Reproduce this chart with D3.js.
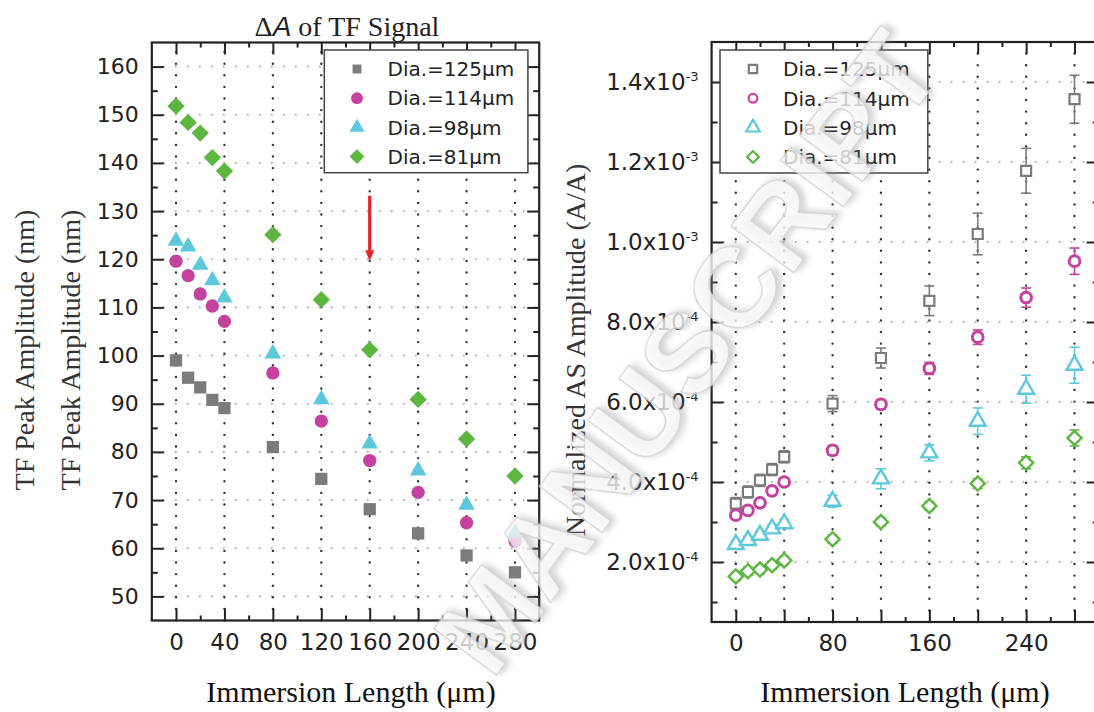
<!DOCTYPE html>
<html>
<head>
<meta charset="utf-8">
<script src="https://cdn.jsdelivr.net/npm/d3@7"></script>
<style>
  body { margin: 0; background: #fff; }
  svg { display: block; }
</style>
</head>
<body>
<div id="chart"></div>
<script>
// immersion lengths (um), shared by both panels
const immersion = [0, 10, 20, 30, 40, 80, 120, 160, 200, 240, 280];
const diaLabels = ["Dia.=125\u03bcm", "Dia.=114\u03bcm", "Dia.=98\u03bcm", "Dia.=81\u03bcm"];

// left panel: TF peak amplitude (nm)
const tf125 = [99.0, 95.4, 93.4, 90.8, 89.1, 81.0, 74.4, 68.1, 63.1, 58.5, 55.0];
const tf114 = [119.6, 116.6, 112.8, 110.3, 107.1, 96.4, 86.4, 78.2, 71.6, 65.3, 61.5];
const tf98  = [123.8, 122.6, 118.8, 115.6, 112.0, 100.4, 90.9, 81.7, 76.1, 69.0, 63.2];
const tf81  = [151.8, 148.4, 146.2, 141.1, 138.3, 125.1, 111.6, 101.2, 90.9, 82.7, 75.0];

// right panel: normalized AS amplitude and error bars
const as125 = [3.46e-4, 3.75e-4, 4.04e-4, 4.31e-4, 4.63e-4, 5.96e-4, 7.10e-4, 8.53e-4, 10.2e-4, 11.78e-4, 13.57e-4];
const as114 = [3.17e-4, 3.29e-4, 3.48e-4, 3.78e-4, 4.00e-4, 4.79e-4, 5.94e-4, 6.84e-4, 7.62e-4, 8.61e-4, 9.52e-4];
const as98  = [2.44e-4, 2.54e-4, 2.67e-4, 2.83e-4, 2.96e-4, 3.52e-4, 4.08e-4, 4.73e-4, 5.52e-4, 6.32e-4, 6.92e-4];
const as81  = [1.64e-4, 1.77e-4, 1.81e-4, 1.92e-4, 2.04e-4, 2.57e-4, 3.00e-4, 3.40e-4, 3.96e-4, 4.48e-4, 5.10e-4];
const err125 = [0.15e-4, 0.15e-4, 0.15e-4, 0.15e-4, 0.15e-4, 0.2e-4, 0.25e-4, 0.37e-4, 0.52e-4, 0.56e-4, 0.6e-4];
const err114 = [0.1e-4, 0.1e-4, 0.1e-4, 0.1e-4, 0.1e-4, 0.12e-4, 0.12e-4, 0.15e-4, 0.18e-4, 0.24e-4, 0.33e-4];
const err98  = [0.1e-4, 0.1e-4, 0.1e-4, 0.1e-4, 0.1e-4, 0.15e-4, 0.25e-4, 0.2e-4, 0.33e-4, 0.35e-4, 0.45e-4];
const err81  = [0.1e-4, 0.1e-4, 0.1e-4, 0.1e-4, 0.1e-4, 0.1e-4, 0.1e-4, 0.1e-4, 0.12e-4, 0.15e-4, 0.2e-4];

// tick values
const tfTicksX = [0, 40, 80, 120, 160, 200, 240, 280];
const tfTicksY = [50, 60, 70, 80, 90, 100, 110, 120, 130, 140, 150, 160];
const asTicksX = [0, 40, 80, 120, 160, 200, 240, 280];
const asLabelsX = [0, 80, 160, 240];
const asTicksY = [2e-4, 4e-4, 6e-4, 8e-4, 10e-4, 12e-4, 14e-4];

// red arrow on the left panel
const arrowX = 160, arrowFrom = 133.2, arrowTo = 119.6;

const colors = ["#7b7b7b", "#c4419e", "#5cc8dc", "#5cb640"];
const shapes = [d3.symbolSquare, d3.symbolCircle, d3.symbolTriangle, d3.symbolSquare];
const turn = [0, 0, 0, 45];

const svg = d3.select("#chart").append("svg")
  .attr("width", 1094)
  .attr("height", 712)
  .style("font-family", "'DejaVu Sans', sans-serif");

const defs = svg.append("defs");
defs.append("filter").attr("id", "wm").attr("x", "-20%").attr("y", "-20%").attr("width", "140%").attr("height", "140%")
  .append("feDropShadow")
  .attr("dx", 4).attr("dy", 3).attr("stdDeviation", 3)
  .attr("flood-color", "#909090").attr("flood-opacity", 0.55);

// scales
const xL = d3.scaleLinear().domain([-20, 300]).range([151.8, 539.2]);
const yL = d3.scaleLinear().domain([45, 165]).range([620.5, 42.5]);
const xR = d3.scaleLinear().domain([-20, 300]).range([711.6, 1098.7]);
const yR = d3.scaleLinear().domain([0.5e-4, 1.5e-3]).range([622, 42]);

function grid(g, x, y, xt, yt) {
  g.append("g").selectAll("line").data(yt).join("line")
    .attr("x1", x.range()[0]).attr("x2", x.range()[1])
    .attr("y1", d => y(d)).attr("y2", d => y(d))
    .attr("stroke", "#b0b0b0").attr("stroke-width", 2.2)
    .attr("stroke-linecap", "round").attr("stroke-dasharray", "0,12");
  g.append("g").selectAll("line").data(xt).join("line")
    .attr("x1", d => x(d)).attr("x2", d => x(d))
    .attr("y1", y.range()[0]).attr("y2", y.range()[1])
    .attr("stroke", "#333").attr("stroke-width", 2.4)
    .attr("stroke-linecap", "round").attr("stroke-dasharray", "0,11.6");
}

function styleAxis(a) {
  a.select(".domain").remove();
  a.selectAll(".tick line").attr("stroke", "#222").attr("stroke-width", 2);
  a.selectAll(".tick text").attr("fill", "#222").style("font-family", "'DejaVu Sans', sans-serif");
}

function frameAxes(g, x, y, xMaj, xMin, yMaj, yMin, xFmt, yFmt, fontX, fontY) {
  const [x0, x1] = x.range(), [y0, y1] = y.range();
  const mk = (axis, vals, size, fmt, pad) => axis.tickValues(vals).tickSize(-size).tickSizeOuter(0)
    .tickPadding(pad).tickFormat(fmt);
  const none = () => "";
  // bottom
  g.append("g").attr("transform", `translate(0,${y0})`).call(mk(d3.axisBottom(x), xMin, 5, none, 4)).call(styleAxis);
  g.append("g").attr("transform", `translate(0,${y0})`).call(mk(d3.axisBottom(x), xMaj, 12, xFmt, 13))
    .call(styleAxis).call(a => a.selectAll("text").attr("font-size", fontX));
  // top
  g.append("g").attr("transform", `translate(0,${y1})`).call(mk(d3.axisTop(x), xMin, 5, none, 4)).call(styleAxis);
  g.append("g").attr("transform", `translate(0,${y1})`).call(mk(d3.axisTop(x), xMaj, 12, none, 4)).call(styleAxis);
  // left
  g.append("g").attr("transform", `translate(${x0},0)`).call(mk(d3.axisLeft(y), yMin, 6, none, 4)).call(styleAxis);
  const la = g.append("g").attr("transform", `translate(${x0},0)`).call(mk(d3.axisLeft(y), yMaj, 12, yFmt, 13))
    .call(styleAxis);
  la.selectAll("text").attr("font-size", fontY);
  // right
  g.append("g").attr("transform", `translate(${x1},0)`).call(mk(d3.axisRight(y), yMin, 6, none, 4)).call(styleAxis);
  g.append("g").attr("transform", `translate(${x1},0)`).call(mk(d3.axisRight(y), yMaj, 12, none, 4)).call(styleAxis);
  // frame
  g.append("rect").attr("x", x0).attr("y", y1).attr("width", x1 - x0).attr("height", y0 - y1)
    .attr("fill", "none").attr("stroke", "#222").attr("stroke-width", 2.2);
  return la;
}

// ---------- left panel ----------
const left = svg.append("g");
grid(left, xL, yL, tfTicksX, tfTicksY);

// red arrow
left.append("line")
  .attr("x1", xL(arrowX)).attr("x2", xL(arrowX))
  .attr("y1", yL(arrowFrom)).attr("y2", yL(arrowTo) - 8)
  .attr("stroke", "#e3262b").attr("stroke-width", 3.2);
left.append("path")
  .attr("d", `M${xL(arrowX) - 4.5},${yL(arrowTo) - 11}L${xL(arrowX) + 4.5},${yL(arrowTo) - 11}L${xL(arrowX)},${yL(arrowTo)}Z`)
  .attr("fill", "#e3262b");

const tfSeries = [tf125, tf114, tf98, tf81];
const tfSize = [150, 140, 120, 150];
tfSeries.forEach((vals, i) => {
  left.append("g").selectAll("path").data(vals).join("path")
    .attr("d", d3.symbol().type(shapes[i]).size(tfSize[i]))
    .attr("transform", (d, j) => `translate(${xL(immersion[j])},${yL(d)}) rotate(${turn[i]})`)
    .attr("fill", colors[i]);
});

frameAxes(left, xL, yL, tfTicksX, d3.range(20, 280, 40), tfTicksY, d3.range(55, 160, 10),
  d => d, d => d, "23px", "22px");

// left legend
const legL = left.append("g");
legL.append("rect").attr("x", 324.3).attr("y", 50).attr("width", 203.6).attr("height", 122.7)
  .attr("fill", "#fff").attr("stroke", "#444").attr("stroke-width", 1.5);
diaLabels.forEach((t, i) => {
  const cy = 69 + i * 29.2;
  legL.append("path")
    .attr("d", d3.symbol().type(shapes[i]).size([80, 110, 100, 110][i]))
    .attr("transform", `translate(357,${cy}) rotate(${turn[i]})`)
    .attr("fill", colors[i]);
  legL.append("text").attr("x", 387.5).attr("y", cy).attr("dy", "0.36em")
    .attr("font-size", "20px").attr("fill", "#222").text(t);
});

// title
const title = svg.append("text").attr("x", 347).attr("y", 36).attr("text-anchor", "middle")
  .style("font-family", "'Liberation Serif', serif").attr("font-size", "28px").attr("fill", "#222");
title.append("tspan").text("\u0394");
title.append("tspan").attr("font-style", "italic").style("font-family", "'Liberation Sans', sans-serif").text("A");
title.append("tspan").text(" of TF Signal");

// ---------- right panel ----------
const right = svg.append("g");
grid(right, xR, yR, asTicksX, asTicksY);

const asSeries = [as125, as114, as98, as81];
const asErr = [err125, err114, err98, err81];
const asSize = [100, 90, 110, 100];
const asStroke = [2.2, 3, 2.4, 2.4];
asSeries.forEach((vals, i) => {
  const eg = right.append("g").attr("stroke", colors[i]).attr("stroke-width", 1.6);
  vals.forEach((v, j) => {
    const cx = xR(immersion[j]), lo = yR(v - asErr[i][j]), hi = yR(v + asErr[i][j]);
    eg.append("line").attr("x1", cx).attr("x2", cx).attr("y1", lo).attr("y2", hi);
    eg.append("line").attr("x1", cx - 5).attr("x2", cx + 5).attr("y1", lo).attr("y2", lo);
    eg.append("line").attr("x1", cx - 5).attr("x2", cx + 5).attr("y1", hi).attr("y2", hi);
  });
  right.append("g").selectAll("path").data(vals).join("path")
    .attr("d", d3.symbol().type(shapes[i]).size(asSize[i]))
    .attr("transform", (d, j) => `translate(${xR(immersion[j])},${yR(d)}) rotate(${turn[i]})`)
    .attr("fill", "#fff").attr("stroke", colors[i]).attr("stroke-width", asStroke[i]);
});

const ra = frameAxes(right, xR, yR, asTicksX, d3.range(20, 280, 40), asTicksY, d3.range(1e-4, 1.4e-3, 2e-4),
  d => asLabelsX.includes(d) ? d : "", d => d, "23px", "23px");
// tick labels like 1.4x10^-3
ra.selectAll(".tick text").each(function (d) {
  const e = Math.floor(Math.log10(d) + 1e-9);
  const t = d3.select(this).text(null);
  t.append("tspan").text((d / Math.pow(10, e)).toFixed(1) + "x10");
  t.append("tspan").attr("dy", "-0.65em").attr("font-size", "13px").text(e);
});

// right legend
const legR = right.append("g");
legR.append("rect").attr("x", 720).attr("y", 50).attr("width", 207.8).attr("height", 123)
  .attr("fill", "#fff").attr("stroke", "#444").attr("stroke-width", 1.5);
diaLabels.forEach((t, i) => {
  const cy = 69 + i * 29.3;
  legR.append("path")
    .attr("d", d3.symbol().type(shapes[i]).size([70, 60, 80, 70][i]))
    .attr("transform", `translate(753,${cy}) rotate(${turn[i]})`)
    .attr("fill", "#fff").attr("stroke", colors[i]).attr("stroke-width", 2.2);
  legR.append("text").attr("x", 783).attr("y", cy).attr("dy", "0.36em")
    .attr("font-size", "20px").attr("fill", "#222").text(t);
});

// ---------- axis titles ----------
const serif = "'Liberation Serif', 'Times New Roman', serif";
[351, 905].forEach(cx => {
  svg.append("text").attr("x", cx).attr("y", 702).attr("text-anchor", "middle")
    .style("font-family", serif).attr("font-size", "30px").attr("fill", "#111")
    .text("Immersion Length (\u03bcm)");
});
[34, 80].forEach(bx => {
  svg.append("text").attr("transform", `translate(${bx},350) rotate(-90)`).attr("text-anchor", "middle")
    .style("font-family", serif).attr("font-size", "28px").attr("fill", "#333")
    .text("TF Peak Amplitude (nm)");
});
svg.append("text").attr("transform", "translate(585,350) rotate(-90)").attr("text-anchor", "middle")
  .style("font-family", serif).attr("font-size", "28px").attr("fill", "#333")
  .text("Normalized AS Amplitude (A/A)");

// ---------- watermark ----------
svg.append("text")
  .attr("transform", "translate(686,352) rotate(-53.5)")
  .attr("text-anchor", "middle").attr("dy", "0.35em")
  .style("font-family", "'Liberation Sans', sans-serif").attr("font-weight", "bold")
  .attr("font-size", "114px")
  .attr("fill", "#fff").attr("fill-opacity", 0.7)
  .attr("stroke", "#d0d0d0").attr("stroke-width", 1.2)
  .attr("filter", "url(#wm)")
  .text("MANUSCRIPT");
</script>
</body>
</html>
